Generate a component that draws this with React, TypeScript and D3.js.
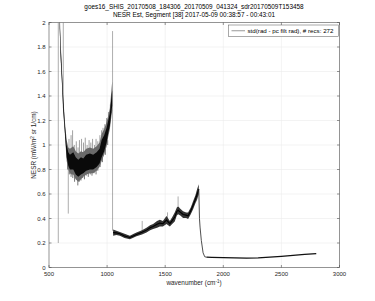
import React from "react";
import * as d3 from "d3";

const title1 = "goes16_SHIS_20170508_184306_20170509_041324_sdr20170509T153458";
const title2 = "NESR Est, Segment [38] 2017-05-09 00:38:57 - 00:43:01";
const legendText = "std(rad - pc filt rad), # recs:  272";

const xTicks = [500, 1000, 1500, 2000, 2500, 3000];
const yTicks = [0, 0.2, 0.4, 0.6, 0.8, 1, 1.2, 1.4, 1.6, 1.8, 2];

// Segment 1 (longwave band): envelope and dense core
const s1Wn = [588, 592, 600, 610, 623, 637, 652, 666, 680, 695, 709, 730, 752, 775, 795, 820, 852, 880, 910, 935, 953, 975, 996, 1010, 1024, 1038, 1044];
const s1Hi = [2.3, 2.1, 1.85, 1.65, 1.39, 1.19, 1.04, 0.98, 0.97, 0.98, 0.99, 0.95, 0.93, 0.95, 0.94, 0.97, 0.98, 0.97, 0.99, 1.02, 1.09, 1.13, 1.19, 1.24, 1.30, 1.46, 1.52];
const s1Lo = [2.1, 1.95, 1.70, 1.52, 1.26, 1.08, 0.87, 0.80, 0.77, 0.76, 0.76, 0.72, 0.70, 0.72, 0.74, 0.76, 0.77, 0.77, 0.79, 0.82, 0.87, 0.92, 0.99, 1.07, 1.13, 1.24, 1.28];
const s1CoreHi = [2.2, 2.02, 1.82, 1.62, 1.37, 1.16, 1.00, 0.94, 0.92, 0.93, 0.94, 0.90, 0.88, 0.90, 0.89, 0.92, 0.93, 0.92, 0.94, 0.97, 1.04, 1.08, 1.14, 1.20, 1.26, 1.40, 1.45];
const s1CoreLo = [2.12, 1.96, 1.72, 1.54, 1.28, 1.10, 0.90, 0.83, 0.80, 0.80, 0.80, 0.76, 0.74, 0.76, 0.77, 0.79, 0.80, 0.80, 0.82, 0.85, 0.90, 0.95, 1.02, 1.10, 1.16, 1.28, 1.32];

// Segment 1 noise fringe: upward and downward excursions
const upWn = [672, 690, 703, 718, 735, 750, 762, 780, 797, 812, 828, 845, 860, 875, 892, 905, 920, 938, 952, 965, 980, 995, 1012, 1028];
const upV = [1.05, 1.08, 1.12, 1.0, 1.03, 0.98, 1.04, 1.05, 1.02, 1.06, 1.0, 1.04, 1.02, 1.05, 1.0, 1.05, 1.03, 1.08, 1.12, 1.14, 1.17, 1.22, 1.27, 1.33];
const upBase = [0.93, 0.92, 0.93, 0.92, 0.90, 0.88, 0.89, 0.90, 0.89, 0.91, 0.92, 0.93, 0.92, 0.92, 0.93, 0.94, 0.95, 0.97, 1.03, 1.06, 1.09, 1.13, 1.19, 1.25];
const dnWn = [660, 675, 690, 705, 720, 735, 748, 760, 775, 790, 805, 820, 838, 855, 870, 888, 905, 920, 940, 960, 985, 1005];
const dnV = [0.80, 0.76, 0.74, 0.73, 0.70, 0.72, 0.67, 0.70, 0.71, 0.73, 0.72, 0.75, 0.74, 0.76, 0.75, 0.77, 0.76, 0.79, 0.82, 0.86, 0.92, 1.0];
const dnBase = [0.88, 0.82, 0.80, 0.80, 0.79, 0.77, 0.75, 0.75, 0.76, 0.77, 0.78, 0.79, 0.80, 0.80, 0.80, 0.81, 0.82, 0.83, 0.86, 0.90, 0.97, 1.04];

// Segment 2 (midwave band)
const s2Wn = [1052, 1080, 1110, 1150, 1196, 1230, 1253, 1300, 1339, 1370, 1396, 1430, 1454, 1480, 1511, 1540, 1560, 1582, 1600, 1611, 1630, 1654, 1680, 1697, 1720, 1740, 1760, 1775, 1789];
const s2Hi = [0.31, 0.30, 0.29, 0.275, 0.26, 0.275, 0.285, 0.305, 0.325, 0.345, 0.355, 0.38, 0.39, 0.38, 0.42, 0.38, 0.41, 0.45, 0.49, 0.50, 0.48, 0.46, 0.45, 0.45, 0.49, 0.54, 0.59, 0.64, 0.68];
const s2Lo = [0.26, 0.265, 0.26, 0.24, 0.23, 0.245, 0.255, 0.27, 0.285, 0.305, 0.315, 0.325, 0.335, 0.335, 0.355, 0.335, 0.355, 0.375, 0.425, 0.435, 0.425, 0.405, 0.405, 0.395, 0.435, 0.475, 0.525, 0.555, 0.60];

// Drop between bands
const tWn = [1789, 1795, 1800, 1811, 1826, 1840, 1855];
const tV = [0.64, 0.40, 0.33, 0.22, 0.12, 0.088, 0.084];

// Segment 3 (shortwave)
const s3Wn = [1855, 1900, 2000, 2100, 2200, 2300, 2400, 2500, 2600, 2700, 2800];
const s3V = [0.084, 0.083, 0.081, 0.079, 0.077, 0.079, 0.084, 0.091, 0.099, 0.107, 0.114];

// Isolated spikes
const spikeWn = [580, 623, 666, 1047, 1302, 1520, 1611];
const spikeFrom = [0.2, 2.0, 0.85, 0.30, 0.30, 0.40, 0.50];
const spikeTo = [2.0, 1.3, 0.44, 1.93, 0.38, 0.45, 0.58];

const W = 375, H = 301;
const L = 49, R = 339.5, T = 22.5, B = 267.5;
const FONT = "'Liberation Sans', Arial, Helvetica, sans-serif";

export default function App() {
  const x = d3.scaleLinear().domain([500, 3000]).range([L, R]);
  const y = d3.scaleLinear().domain([0, 2]).range([B, T]);

  const band = (wn: number[], hi: number[], lo: number[]) =>
    d3.area<number>()
      .x((_, i) => x(wn[i]))
      .y0((_, i) => y(lo[i]))
      .y1((_, i) => y(hi[i]))(wn.map((d) => d)) || "";
  const line = (wn: number[], v: number[]) =>
    d3.line<number>().x((_, i) => x(wn[i])).y((_, i) => y(v[i]))(wn.map((d) => d)) || "";

  const axisColor = "#4d4d4d";
  const gridColor = "#ebebeb";
  const tick = 2.5;

  return (
    <svg width={W} height={H} style={{ position: "absolute", left: 0, top: 0, background: "#fff" }} fontFamily={FONT}>
      <defs>
        <clipPath id="plotclip">
          <rect x={L} y={T} width={R - L} height={B - T} />
        </clipPath>
      </defs>
      <rect x={0} y={0} width={W} height={H} fill="#fff" />
      {xTicks.slice(1, -1).map((t) => (
        <line key={"gx" + t} x1={x(t)} x2={x(t)} y1={T} y2={B} stroke={gridColor} strokeWidth={0.6} />
      ))}
      {yTicks.slice(1, -1).map((t) => (
        <line key={"gy" + t} x1={L} x2={R} y1={y(t)} y2={y(t)} stroke={gridColor} strokeWidth={0.6} />
      ))}
      <g clipPath="url(#plotclip)">
        {spikeWn.map((w, i) => (
          <line key={"sp" + i} x1={x(w)} x2={x(w)} y1={y(spikeFrom[i])} y2={y(spikeTo[i])} stroke="#777" strokeWidth={0.6} />
        ))}
        {upWn.map((w, i) => (
          <line key={"up" + i} x1={x(w)} x2={x(w)} y1={y(upBase[i])} y2={y(upV[i])} stroke="#8a8a8a" strokeWidth={0.8} />
        ))}
        {dnWn.map((w, i) => (
          <line key={"dn" + i} x1={x(w)} x2={x(w)} y1={y(dnBase[i])} y2={y(dnV[i])} stroke="#555" strokeWidth={0.8} />
        ))}
        <path d={band(s1Wn, s1Hi, s1Lo)} fill="#6a6a6a" />
        <path d={band(s1Wn, s1CoreHi, s1CoreLo)} fill="#0a0a0a" />
        <path d={band(s2Wn, s2Hi, s2Lo)} fill="#333" />
        <path d={line(s2Wn, s2Hi.map((h, i) => (h + s2Lo[i]) / 2))} fill="none" stroke="#000" strokeWidth={1.1} />
        <path d={line(tWn, tV)} fill="none" stroke="#222" strokeWidth={0.8} />
        <path d={line(s3Wn, s3V)} fill="none" stroke="#111" strokeWidth={1.3} />
      </g>
      <rect x={L} y={T} width={R - L} height={B - T} fill="none" stroke={axisColor} strokeWidth={0.6} />
      {xTicks.map((t) => (
        <g key={"xt" + t}>
          <line x1={x(t)} x2={x(t)} y1={B} y2={B - tick} stroke={axisColor} strokeWidth={0.6} />
          <line x1={x(t)} x2={x(t)} y1={T} y2={T + tick} stroke={axisColor} strokeWidth={0.6} />
          <text x={x(t)} y={B + 8} fontSize={6} textAnchor="middle" fill="#262626">{t}</text>
        </g>
      ))}
      {yTicks.map((t) => (
        <g key={"yt" + t}>
          <line x1={L} x2={L + tick} y1={y(t)} y2={y(t)} stroke={axisColor} strokeWidth={0.6} />
          <line x1={R} x2={R - tick} y1={y(t)} y2={y(t)} stroke={axisColor} strokeWidth={0.6} />
          <text x={L - 3.5} y={y(t) + 2} fontSize={6} textAnchor="end" fill="#262626">{String(t)}</text>
        </g>
      ))}
      <text x={194} y={8.5} fontSize={6.4} textAnchor="middle" fill="#000">{title1}</text>
      <text x={194} y={17} fontSize={6.4} textAnchor="middle" fill="#000">{title2}</text>
      <text x={194} y={285} fontSize={6.4} textAnchor="middle" fill="#262626">
        wavenumber (cm<tspan dy={-2.5} fontSize={4.5}>-1</tspan><tspan dy={2.5}>)</tspan>
      </text>
      <text transform={`translate(36,${(T + B) / 2}) rotate(-90)`} fontSize={6.4} textAnchor="middle" fill="#262626">
        NESR (mW/m<tspan dy={-2.5} fontSize={4.5}>2</tspan><tspan dy={2.5}> sr 1/cm)</tspan>
      </text>
      <rect x={228.5} y={25} width={110} height={11.5} fill="#fff" stroke="#555" strokeWidth={0.5} />
      <line x1={231.5} x2={245} y1={30.75} y2={30.75} stroke="#333" strokeWidth={0.5} />
      <text x={247.5} y={33} fontSize={6.2} fill="#000">{legendText}</text>
    </svg>
  );
}
